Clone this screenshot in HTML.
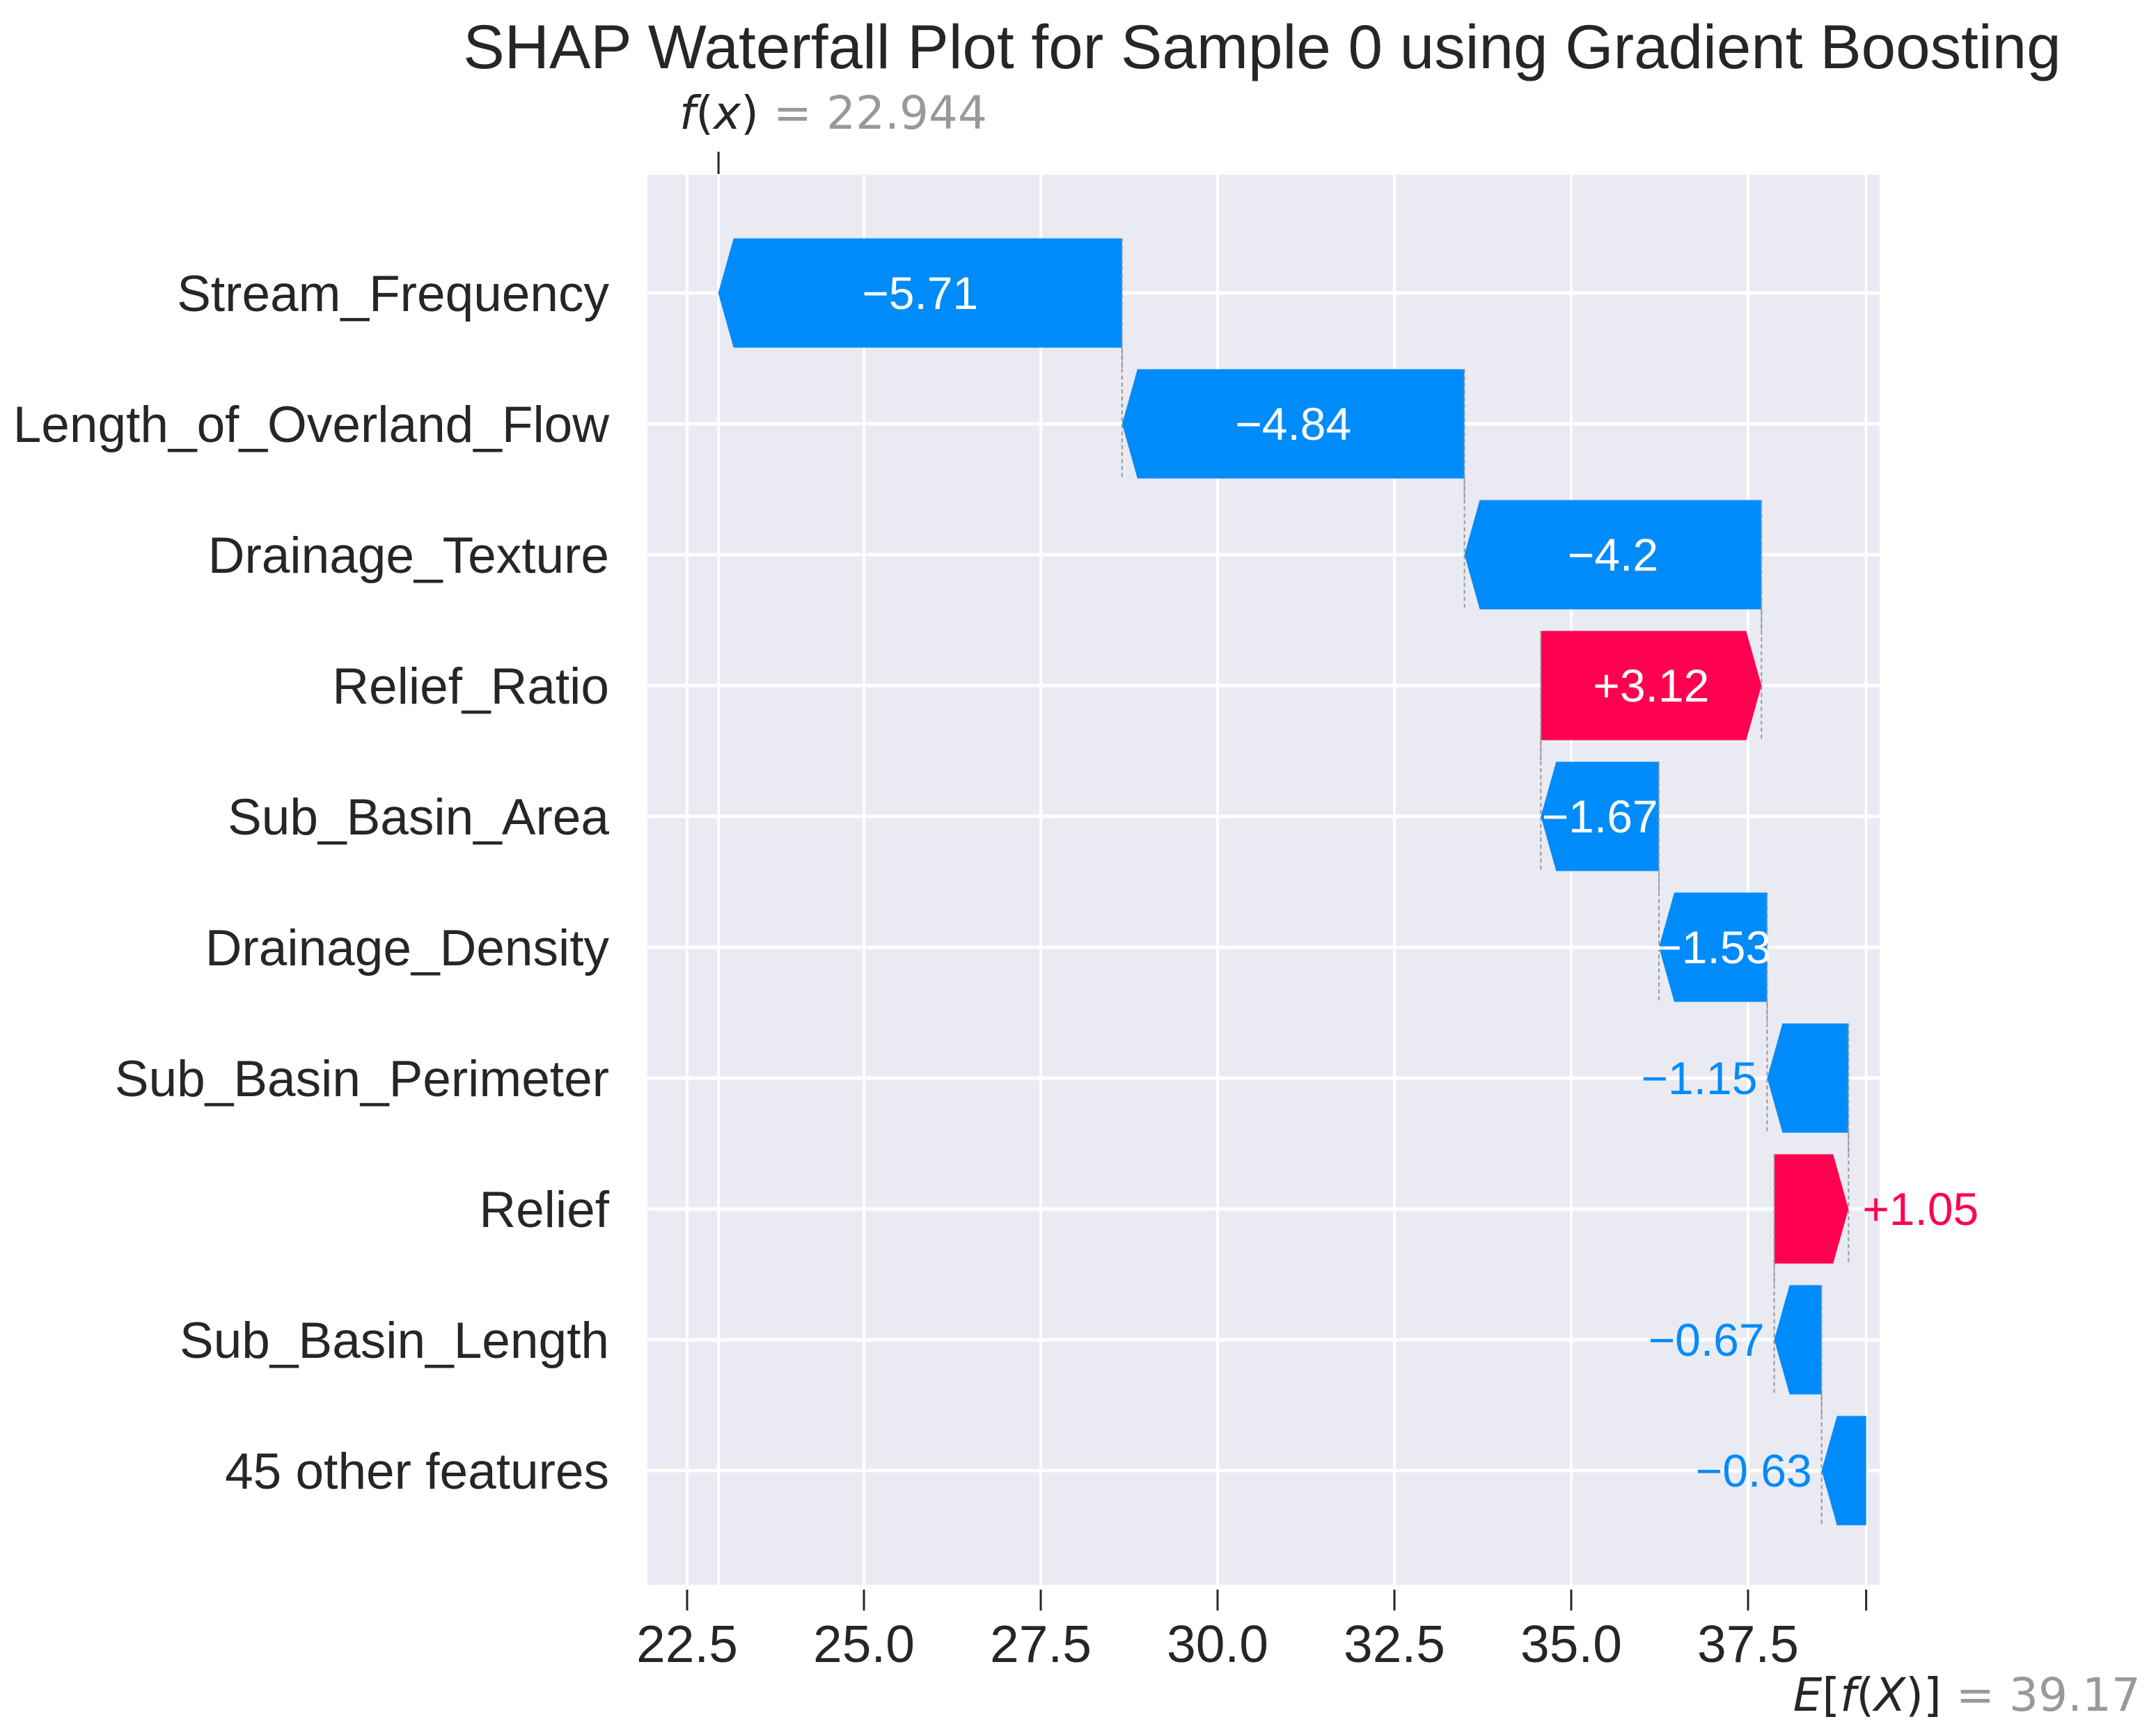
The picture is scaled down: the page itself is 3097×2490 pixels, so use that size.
<!DOCTYPE html>
<html><head><meta charset="utf-8"><style>
html,body{margin:0;padding:0;background:#fff}
svg{display:block;font-family:"Liberation Sans",Arial,sans-serif}
</style></head><body>
<svg id="chart" width="3097" height="2490" viewBox="0 0 3097 2490" xmlns="http://www.w3.org/2000/svg">
<text x="1813" y="98" font-size="89" text-anchor="middle" fill="#262626">SHAP Waterfall Plot for Sample 0 using Gradient Boosting</text>
<g id="plot"></g>
</svg>
<script>
const features = ["Stream_Frequency","Length_of_Overland_Flow","Drainage_Texture","Relief_Ratio","Sub_Basin_Area","Drainage_Density","Sub_Basin_Perimeter","Relief","Sub_Basin_Length","45 other features"];
const shapValues = [-5.71,-4.84,-4.2,3.12,-1.67,-1.53,-1.15,1.05,-0.67,-0.63];
const baseValue = 39.17;
const fxValue = 22.944;
const xTicks = [22.5,25.0,27.5,30.0,32.5,35.0,37.5];
const xTickLabels = ["22.5","25.0","27.5","30.0","32.5","35.0","37.5"];

const NS="http://www.w3.org/2000/svg";
const g=document.getElementById('plot');
const L=930,R=2700,T=251,B=2277;
const x=v=>987+(v-22.5)*101.6;
const rowY=i=>421+i*188;
const BH=157, HEAD=22;
const BLUE="#008bfb", RED="#ff0051";
function mk(tag,attrs,parent){const e=document.createElementNS(NS,tag);for(const k in attrs)e.setAttribute(k,attrs[k]);(parent||g).appendChild(e);return e;}

const bg=mk('rect',{x:L,y:T,width:R-L,height:B-T,fill:"#eaeaf2"});



const gridVals=xTicks.concat([fxValue,baseValue]);
gridVals.forEach(v=>{
  const l=mk('line',{x1:x(v),x2:x(v),y1:T,y2:B,stroke:"#fff","stroke-width":4});
  
  
});
features.forEach((f,i)=>{
  const l=mk('line',{x1:L,x2:R,y1:rowY(i),y2:rowY(i),stroke:"#fff","stroke-width":5});
  
  
});

const n=features.length;
const ends=new Array(n), starts=new Array(n);
let cur=baseValue;
for(let i=n-1;i>=0;i--){starts[i]=cur;ends[i]=cur+shapValues[i];cur=ends[i];}

for(let i=0;i<n;i++){
  const v=shapValues[i], y=rowY(i);
  const x0=x(starts[i]), x1=x(ends[i]);
  const pos=v>0, col=pos?RED:BLUE;
  const left=Math.min(x0,x1), right=Math.max(x0,x1);
  const w=right-left, h=Math.min(HEAD,w);
  let pts;
  if(pos){pts=[[left,y-BH/2],[right-h,y-BH/2],[right,y],[right-h,y+BH/2],[left,y+BH/2]];}
  else{pts=[[right,y-BH/2],[left+h,y-BH/2],[left,y],[left+h,y+BH/2],[right,y+BH/2]];}
  const p=mk('polygon',{points:pts.map(q=>q.join(',')).join(' '),fill:col});
  
  
  if(i<n-1){
    const c=mk('line',{x1:x0,x2:x0,y1:y-BH/2,y2:y+BH/2+31,stroke:"#999","stroke-width":2,"stroke-dasharray":"6,4"});
    
    
  }
  if(i>0){
    const c2=mk('line',{x1:x1,x2:x1,y1:y-BH/2-31,y2:y+BH/2,stroke:"#999","stroke-width":2,"stroke-dasharray":"6,4"});
    
    
  }
  const txt=(pos?"+":"\u2212")+Math.abs(v);
  let t;
  if(w>150){
    t=mk('text',{x:(left+right)/2,y:y+23,"font-size":66,"text-anchor":"middle",fill:"#fff"});
  } else {
    if(pos) t=mk('text',{x:right+20,y:y+23,"font-size":66,"text-anchor":"start",fill:col});
    else t=mk('text',{x:left-14,y:y+23,"font-size":66,"text-anchor":"end",fill:col});
  }
  t.textContent=txt;
  
  
  const fl=mk('text',{x:875,y:y+26,"font-size":73,"text-anchor":"end",fill:"#262626"});
  fl.textContent=features[i];
  
  
}

xTicks.forEach((v,i)=>{
  const l=mk('line',{x1:x(v),x2:x(v),y1:2284,y2:2314,stroke:"#262626","stroke-width":3});
  
  
  const t=mk('text',{x:x(v),y:2388,"font-size":75,"text-anchor":"middle",fill:"#262626"});
  t.textContent=xTickLabels[i];
  
  
});
const et=mk('line',{x1:x(baseValue),x2:x(baseValue),y1:2284,y2:2314,stroke:"#262626","stroke-width":3});


const ft=mk('line',{x1:x(fxValue),x2:x(fxValue),y1:218,y2:250,stroke:"#262626","stroke-width":3});



const fxl=mk('text',{x:976,y:185,"font-size":66,fill:"#262626","font-family":"DejaVu Sans, sans-serif"});
fxl.innerHTML='<tspan font-style="italic">f</tspan>(<tspan font-style="italic">x</tspan>)<tspan fill="#999"> = '+fxValue+'</tspan>';


const el=mk('text',{x:3075,y:2458,"font-size":66,"text-anchor":"end",fill:"#262626","font-family":"DejaVu Sans, sans-serif"});
el.innerHTML='<tspan font-style="italic">E</tspan>[<tspan font-style="italic">f</tspan>(<tspan font-style="italic">X</tspan>)]<tspan fill="#999"> = '+baseValue+'</tspan>';


</script>
</body></html>
